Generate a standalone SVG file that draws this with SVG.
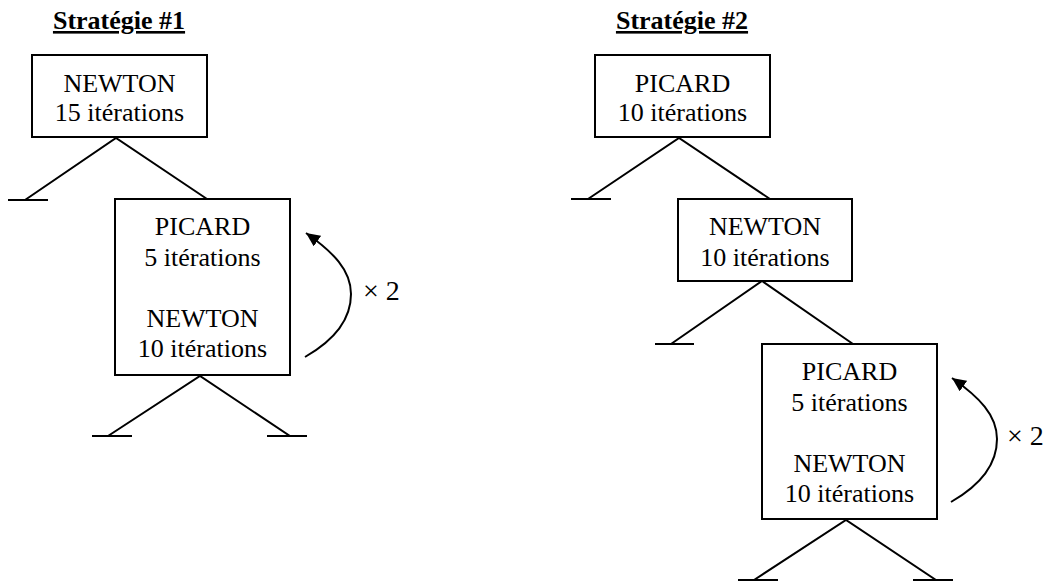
<svg xmlns="http://www.w3.org/2000/svg" width="1054" height="583" viewBox="0 0 1054 583">
<defs>
<style>
.box{fill:#fff;stroke:#000;stroke-width:2}
.ln{fill:none;stroke:#000;stroke-width:2}
text{font-family:'Liberation Serif','Times New Roman',serif;fill:#000}
.t{font-size:26px;text-anchor:middle}
.title{font-size:26px;font-weight:bold;text-anchor:middle;text-decoration:underline}
.x2{font-size:28px}
</style>
<marker id="ah" markerUnits="userSpaceOnUse" markerWidth="16" markerHeight="14" refX="14" refY="6.5" orient="auto">
<path d="M0,0 L14,6.5 L0,13 z" fill="#000"/>
</marker>
</defs>
<rect width="1054" height="583" fill="#fff"/>
<text class="title" x="119" y="29">Stratégie #1</text>
<text class="title" x="682" y="29">Stratégie #2</text>
<g id="connectors">
<path class="ln" d="M8,200 H48 M25,200 L116,138 L207,199"/>
<path class="ln" d="M92,436 H132 M108,436 L200,376 L290,436 H307 M267,436 H290"/>
<path class="ln" d="M305,357 C333,341 351,320 351,294 C351,270 333,252 306,233" marker-end="url(#ah)"/>
<path class="ln" d="M571,199 H611 M588,199 L679,138 L770,199"/>
<path class="ln" d="M655,344 H694 M671,344 L762,281 L853,344"/>
<path class="ln" d="M738,580 H778 M754,580 L846,520 L936,580 H953 M913,580 H936"/>
<path class="ln" d="M951,502 C979,486 997,465 997,439 C997,415 979,397 952,378" marker-end="url(#ah)"/>
</g>
<g id="n1">
<rect class="box" x="32" y="55" width="175" height="82"/>
<text class="t" x="119.5" y="92">NEWTON</text>
<text class="t" x="119.5" y="121">15 itérations</text>
</g>
<g id="n2">
<rect class="box" x="115" y="199" width="175" height="176"/>
<text class="t" x="202.5" y="235">PICARD</text>
<text class="t" x="202.5" y="266">5 itérations</text>
<text class="t" x="202.5" y="327">NEWTON</text>
<text class="t" x="202.5" y="357">10 itérations</text>
</g>
<text class="x2" x="363" y="300">× 2</text>
<g id="n3">
<rect class="box" x="595" y="55" width="175" height="82"/>
<text class="t" x="682.5" y="92">PICARD</text>
<text class="t" x="682.5" y="121">10 itérations</text>
</g>
<g id="n4">
<rect class="box" x="678" y="199" width="174" height="82"/>
<text class="t" x="765" y="235">NEWTON</text>
<text class="t" x="765" y="266">10 itérations</text>
</g>
<g id="n5">
<rect class="box" x="762" y="344" width="175" height="175"/>
<text class="t" x="849.5" y="380">PICARD</text>
<text class="t" x="849.5" y="411">5 itérations</text>
<text class="t" x="849.5" y="472">NEWTON</text>
<text class="t" x="849.5" y="502">10 itérations</text>
</g>
<text class="x2" x="1007" y="445">× 2</text>
</svg>
